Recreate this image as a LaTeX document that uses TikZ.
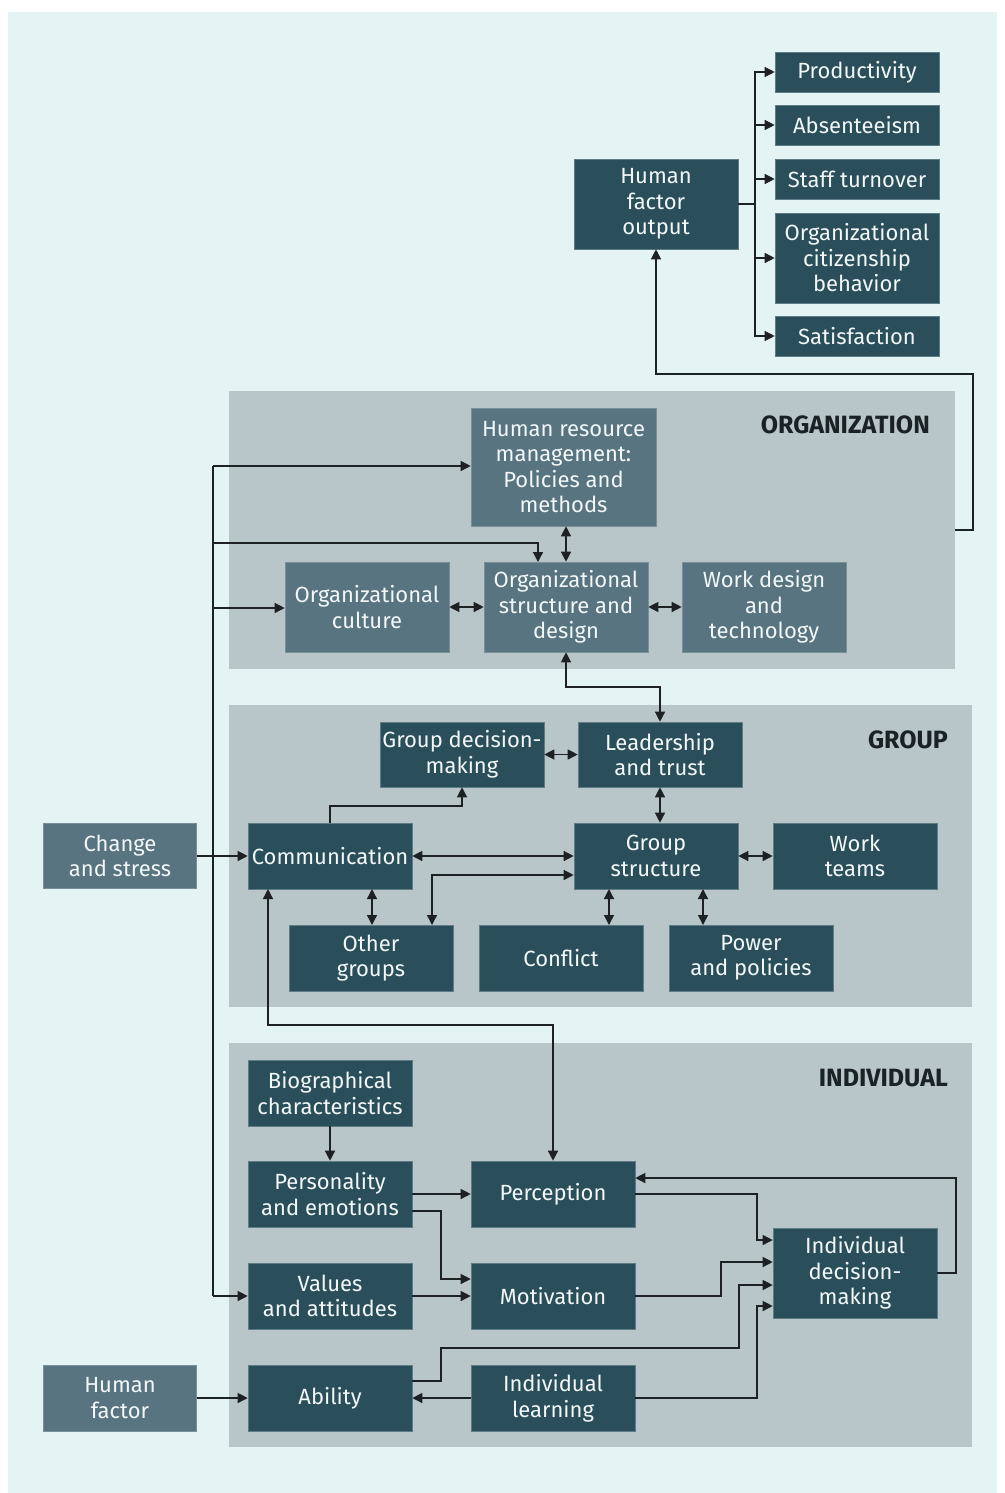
\documentclass[tikz,border=0pt]{standalone}
\usepackage{fontspec}
\setmainfont{Fira Sans}
\usetikzlibrary{arrows.meta,calc}

\definecolor{bgc}{HTML}{E4F3F4}
\definecolor{panelc}{HTML}{B8C5C9}
\definecolor{darkbox}{HTML}{2A4F5A}
\definecolor{midbox}{HTML}{587480}
\definecolor{linec}{HTML}{1E2123}
\definecolor{boxtext}{HTML}{F2F7F8}
\definecolor{labelc}{HTML}{1A2226}

\newcommand\boxfont{\fontsize{22}{25.5}\selectfont}
\newcommand\tagfont{\fontsize{25}{28}\selectfont\bfseries}

\tikzset{
  box/.style={inner sep=0pt, align=center, text=boxtext, font=\boxfont},
  dbox/.style={box, fill=darkbox, draw=darkbox!75!white, line width=0.6pt},
  mbox/.style={box, fill=midbox, draw=midbox!80!white, line width=0.6pt},
  sz/.style 2 args={minimum width=#1pt, minimum height=#2pt},
  panel/.style={fill=panelc, inner sep=0pt, anchor=north west},
  tag/.style={font=\tagfont, text=labelc, anchor=east, inner sep=0pt},
  link/.style={draw=linec, line width=1.3pt},
  arr/.style={link, -{Triangle[length=10pt,width=10pt]}},
  darr/.style={link, {Triangle[length=10pt,width=10pt]}-{Triangle[length=10pt,width=10pt]}},
}

\begin{document}
\begin{tikzpicture}[x=1pt,y=-1pt]
  % page and background
  \fill[white] (0,0) rectangle (1004,1493);
  \useasboundingbox (0,0) rectangle (1004,1493);
  \fill[bgc] (8,12) rectangle (997,1493);

  % level panels
  \node[panel, sz={726}{278}] (orgp) at (229,391) {};
  \node[panel, sz={743}{302}] (grpp) at (229,705) {};
  \node[panel, sz={743}{404}] (indp) at (229,1043) {};
  \node[tag] (orgtag) at (930,425) {ORGANIZATION};
  \node[tag] (grptag) at (948,740) {GROUP};
  \node[tag] (indtag) at (948,1078) {INDIVIDUAL};

  % outputs
  \node[dbox, sz={164}{90}] (hfo) at (656,204) {Human\\factor\\output};
  \node[dbox, sz={164}{40}] (prod) at (857,72) {Productivity};
  \node[dbox, sz={164}{40}] (abs) at (857,125) {Absenteeism};
  \node[dbox, sz={164}{40}] (turn) at (857,179) {Staff turnover};
  \node[dbox, sz={164}{90}] (ocb) at (857,258) {Organizational\\citizenship\\behavior};
  \node[dbox, sz={164}{40}] (sat) at (857,336) {Satisfaction};

  % organization level
  \node[mbox, sz={185}{118}] (hrm) at (563.5,467) {Human resource\\management:\\Policies and\\methods};
  \node[mbox, sz={164}{90}] (ocult) at (367,607) {Organizational\\culture};
  \node[mbox, sz={164}{90}] (ostr) at (566,607) {Organizational\\structure and\\design};
  \node[mbox, sz={164}{90}] (wdes) at (764,607) {Work design\\and\\technology};

  % group level
  \node[dbox, sz={164}{65}] (gdm) at (462,754.5) {Group decision-\\making};
  \node[dbox, sz={164}{65}] (lead) at (660,754.5) {Leadership\\and trust};
  \node[dbox, sz={164}{66}] (comm) at (330,856) {Communication};
  \node[dbox, sz={164}{66}] (gstr) at (656,856) {Group\\structure};
  \node[dbox, sz={164}{66}] (team) at (855,856) {Work\\teams};
  \node[dbox, sz={164}{66}] (other) at (371,958) {Other\\groups};
  \node[dbox, sz={164}{66}] (confl) at (561,958) {Conflict};
  \node[dbox, sz={164}{66}] (power) at (751,958) {Power\\and policies};

  % individual level
  \node[dbox, sz={164}{66}] (bio) at (330,1093) {Biographical\\characteristics};
  \node[dbox, sz={164}{66}] (pers) at (330,1194) {Personality\\and emotions};
  \node[dbox, sz={164}{66}] (perc) at (553,1194) {Perception};
  \node[dbox, sz={164}{66}] (vals) at (330,1296) {Values\\and attitudes};
  \node[dbox, sz={164}{66}] (motiv) at (553,1296) {Motivation};
  \node[dbox, sz={164}{90}] (idm) at (855,1273) {Individual\\decision-\\making};
  \node[dbox, sz={164}{66}] (abil) at (330,1398) {Ability};
  \node[dbox, sz={164}{66}] (learn) at (553,1398) {Individual\\learning};

  % external inputs
  \node[mbox, sz={153}{65}] (chg) at (120,856) {Change\\and stress};
  \node[mbox, sz={153}{66}] (hf) at (120,1398) {Human\\factor};

  % junction points
  \coordinate (bus) at (755,204);
  \coordinate (fb) at (955,530);
  \coordinate (trunktop) at (213,466);
  \coordinate (trunkbot) at (213,1296);

  % output bus
  \draw[link] (hfo.east) -- (bus);
  \draw[link] (755,72) -- (755,336);
  \foreach \n in {prod,abs,turn,ocb,sat}
    \draw[arr] (bus) |- (\n.west);

  % organization feeds the outputs
  \draw[arr] (fb) -- (973,530) -- (973,374) -| (hfo.south);

  % change and stress trunk
  \draw[arr] (chg.east) -- (comm.west);
  \draw[link] (trunktop) -- (trunkbot);
  \draw[arr] (trunktop) -- (hrm.west |- trunktop);
  \draw[arr] (213,543) -| (538,562);
  \draw[arr] (213,608) -- (ocult.west |- 0,608);
  \draw[arr] (trunkbot) -- (vals.west);

  % organization links
  \draw[darr] (hrm.south -| ostr.north) -- (ostr.north);
  \draw[darr] (ocult.east) -- (ostr.west);
  \draw[darr] (ostr.east) -- (wdes.west);
  \draw[darr] (ostr.south) -- (566,687) -| (lead.north);

  % group links
  \draw[darr] (gdm.east) -- (lead.west);
  \draw[darr] (lead.south) -- (lead.south |- gstr.north);
  \draw[arr] (comm.north) -- (330,806) -| (gdm.south);
  \draw[darr] (comm.east) -- (gstr.west);
  \draw[darr] (gstr.west |- 0,875) -| (432,925);
  \draw[darr] (372,889) -- (372,925);
  \draw[darr] (609,889) -- (609,925);
  \draw[darr] (703,889) -- (703,925);
  \draw[darr] (gstr.east) -- (team.west);
  \draw[darr] (perc.north) -- (553,1025) -| (268,889);

  % individual links
  \draw[arr] (bio.south) -- (pers.north);
  \draw[arr] (pers.east) -- (perc.west);
  \draw[arr] (412,1211) -- (441,1211) |- (motiv.west |- 0,1279);
  \draw[arr] (vals.east) -- (motiv.west);
  \draw[arr] (perc.east) -- (757,1194) |- (idm.west |- 0,1240);
  \draw[arr] (motiv.east) -- (721,1296) |- (idm.west |- 0,1262);
  \draw[arr] (412,1381) -- (441,1381) -- (441,1348) -- (739,1348) |- (idm.west |- 0,1285);
  \draw[arr] (learn.east) -- (757,1398) |- (idm.west |- 0,1306);
  \draw[arr] (learn.west) -- (abil.east);
  \draw[arr] (idm.east) -- (956,1273) |- (perc.east |- 0,1178);
  \draw[arr] (hf.east) -- (abil.west);
\end{tikzpicture}
\end{document}
